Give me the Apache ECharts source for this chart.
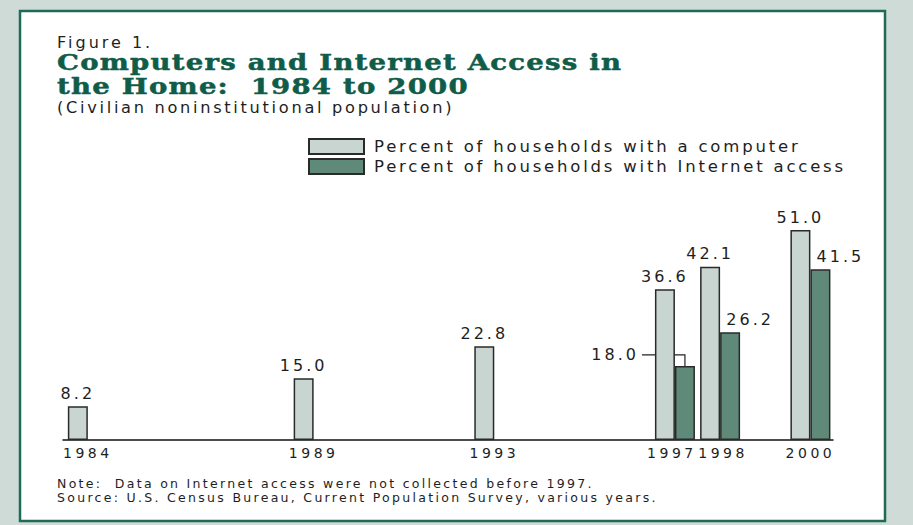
<!DOCTYPE html>
<html>
<head>
<meta charset="utf-8">
<script src="https://cdn.jsdelivr.net/npm/echarts@6/dist/echarts.min.js"></script>
<style>
  html, body { margin: 0; padding: 0; background: #cfdbd6; }
  #chart { width: 913px; height: 525px; }
</style>
</head>
<body>
<div id="chart"></div>
<script>
// Survey years and household percentages
const years = [1984, 1989, 1993, 1997, 1998, 2000];
const computerPct = [8.2, 15.0, 22.8, 36.6, 42.1, 51.0];
const internetPct = [null, null, null, 18.0, 26.2, 41.5];
const yearLabels = ['1984', '1989', '1993', '1997', '1998', '2000'];
const seriesNames = ['Percent of households with a computer', 'Percent of households with Internet access'];

const SANS = 'DejaVu Sans';
const SERIF = 'DejaVu Serif';
const INK = '#1e1e1e';
const GREEN = '#0f5c49';
const BAR_W = 20;

// letter spacing per font size (applied to the svg text nodes)
const tracking = { '16px': '3px', '22px': '1px', '16.2px': '2.7px', '16.5px': '2.8px', '14px': '3.5px', '12.5px': '2.3px' };

const computerData = years.map((y, i) => [y, computerPct[i]]);
const internetData = [];
years.forEach((y, i) => {
  if (internetPct[i] == null) return;
  const item = { value: [y, internetPct[i]] };
  if (y === 1997) item.label = { show: false };
  internetData.push(item);
});

const chart = echarts.init(document.getElementById('chart'), null, { renderer: 'svg' });

const titleStyle = { fontFamily: SERIF, fontWeight: 'bold', fontSize: 22, fill: GREEN, stroke: GREEN, lineWidth: 0.5, verticalAlign: 'middle' };
const yearStyle = { fontFamily: SANS, fontSize: 14, color: INK };

const option = {
  animation: false,
  backgroundColor: '#cfdbd6',
  grid: { left: 63, right: 80, top: 193, bottom: 85 },
  legend: {
    left: 303, top: 133, orient: 'vertical',
    itemWidth: 55, itemHeight: 15, itemGap: 3,
    icon: 'rect',
    textStyle: { fontFamily: SANS, fontSize: 16.5, color: INK, padding: [0, 0, 0, 5] },
    selectedMode: false
  },
  xAxis: {
    type: 'value', min: 1983.45, max: 2000.5,
    splitLine: { show: false },
    axisTick: { show: false },
    axisLine: { show: true, onZero: false, lineStyle: { color: '#111', width: 1.5 } },
    axisLabel: {
      customValues: years,
      // the two adjacent late-1990s labels are nudged apart
      formatter: v => {
        const t = yearLabels[years.indexOf(v)] || '';
        if (v === 1997) return '{l|' + t + '}';
        if (v === 1998) return '{r|' + t + '}';
        return t;
      },
      margin: 6,
      fontFamily: SANS, fontSize: 14, color: INK,
      rich: {
        l: Object.assign({ padding: [0, 6, 0, 0] }, yearStyle),
        r: Object.assign({ padding: [0, 0, 0, 6] }, yearStyle)
      }
    }
  },
  yAxis: { type: 'value', min: 0, max: 60, show: false },
  series: [
    {
      name: seriesNames[0], type: 'bar', data: computerData,
      barWidth: BAR_W, barGap: '0%',
      itemStyle: { color: '#c8d5d0', borderColor: '#2a2a2a', borderWidth: 1.5 },
      label: {
        show: true, position: 'top', distance: 5,
        formatter: p => p.value[1].toFixed(1),
        fontFamily: SANS, fontSize: 16, color: INK
      }
    },
    {
      name: seriesNames[1], type: 'bar', data: internetData,
      barWidth: BAR_W, barGap: '0%',
      itemStyle: { color: '#5f8a79', borderColor: '#2a2a2a', borderWidth: 1.5 },
      label: {
        show: true, position: 'top', distance: 5, offset: [20, 0],
        formatter: p => p.value[1].toFixed(1),
        fontFamily: SANS, fontSize: 16, color: INK
      }
    }
  ],
  graphic: [
    { id: 'frame', type: 'rect', z: -10, shape: { x: 20, y: 11, width: 865, height: 510 },
      style: { fill: '#fff', stroke: '#1f6b58', lineWidth: 2.5 } },
    { id: 'fig', type: 'text', x: 57, y: 42, style: { text: 'Figure 1.', fontFamily: SANS, fontSize: 16, fill: INK, verticalAlign: 'middle' } },
    { id: 'title1', type: 'text', x: 57, y: 62, scaleX: 1.25, style: Object.assign({ text: 'Computers and Internet Access in' }, titleStyle) },
    { id: 'title2', type: 'text', x: 57, y: 86, scaleX: 1.25, style: Object.assign({ text: 'the Home:  1984 to 2000' }, titleStyle) },
    { id: 'sub', type: 'text', x: 57, y: 107, style: { text: '(Civilian noninstitutional population)', fontFamily: SANS, fontSize: 16.2, fill: INK, verticalAlign: 'middle' } },
    { id: 'note', type: 'text', x: 57, y: 483.5, style: { text: 'Note:  Data on Internet access were not collected before 1997.', fontFamily: SANS, fontSize: 12.5, fill: INK, verticalAlign: 'middle' } },
    { id: 'source', type: 'text', x: 57, y: 497, style: { text: 'Source: U.S. Census Bureau, Current Population Survey, various years.', fontFamily: SANS, fontSize: 12.5, fill: INK, verticalAlign: 'middle' } }
  ]
};
chart.setOption(option);

// Leader line and label for the 1997 Internet bar, placed from the axis scales
const i97 = years.indexOf(1997);
const top97 = chart.convertToPixel({ xAxisIndex: 0, yAxisIndex: 0 }, [1997, internetPct[i97]]);
const barMid = top97[0] + BAR_W / 2;
const elbowY = top97[1] - 11;
const leftEnd = top97[0] - BAR_W - 13;
chart.setOption({
  graphic: [
    { id: 'leader', type: 'polyline', z: 1, shape: { points: [[leftEnd, elbowY], [barMid, elbowY], [barMid, top97[1]]] },
      style: { stroke: '#222', lineWidth: 1.2, fill: null } },
    { id: 'leaderText', type: 'text', x: leftEnd - 3, y: elbowY, style: { text: internetPct[i97].toFixed(1), fontFamily: SANS, fontSize: 16, fill: INK, align: 'right', verticalAlign: 'middle' } }
  ]
});

function applyTracking() {
  document.querySelectorAll('#chart svg text').forEach(t => {
    const s = t.getAttribute('style') || '';
    const m = s.match(/(\d+(?:\.\d+)?px)/);
    if (m && tracking[m[1]]) t.style.letterSpacing = tracking[m[1]];
  });
}
applyTracking();
chart.on('finished', applyTracking);
</script>
</body>
</html>
